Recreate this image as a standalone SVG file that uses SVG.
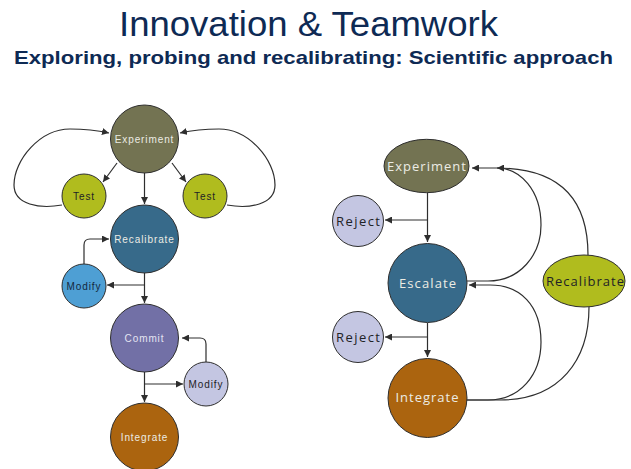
<svg xmlns="http://www.w3.org/2000/svg" width="631" height="469" viewBox="0 0 631 469">
  <style>
    .node { stroke: #2e2e2e; stroke-width: 1; }
    .edge { fill: none; stroke: #2e2e2e; stroke-width: 1.2; }
    .lbl { font-family: "Liberation Sans", Arial, sans-serif; font-size: 10px; letter-spacing: 0.9px; text-anchor: middle; }
    .lbl2 { font-family: "Open Sans", "DejaVu Sans", sans-serif; font-size: 13px; text-anchor: middle; }
    .light { fill: #ecece4; }
    .dark { fill: #1f2326; }
  </style>
  <defs>
    <marker id="arr" viewBox="0 0 10 10" refX="10" refY="5" markerWidth="7" markerHeight="7" markerUnits="userSpaceOnUse" orient="auto">
      <path d="M0,0 L10,5 L0,10 z" fill="#2e2e2e"/>
    </marker>
  </defs>

  <rect width="631" height="469" fill="#ffffff"/>

  <!-- headings -->
  <text x="119" y="36" font-family="'Liberation Sans', Arial, sans-serif" font-size="35" fill="#0e2a54" textLength="379" lengthAdjust="spacingAndGlyphs">Innovation &amp; Teamwork</text>
  <text x="14" y="64" font-family="'Liberation Sans', Arial, sans-serif" font-size="19" font-weight="bold" fill="#0e2a54" textLength="599" lengthAdjust="spacingAndGlyphs">Exploring, probing and recalibrating: Scientific approach</text>

  <!-- connectors -->
  <g id="connectors">
    <!-- left cycle -->
    <path class="edge" d="M62,205 C40,209 14,205 14,185 C14,160 40,129 70,129 C88,129 100,131 109,133" marker-end="url(#arr)"/>
    <path class="edge" d="M227,205 C249,209 275,205 275,185 C275,160 249,129 219,129 C201,129 189,131 180,133" marker-end="url(#arr)"/>
    <path class="edge" d="M117,163 L103,182" marker-end="url(#arr)"/>
    <path class="edge" d="M172,163 L186,182" marker-end="url(#arr)"/>
    <path class="edge" d="M144.5,173 L144.5,204" marker-end="url(#arr)"/>
    <path class="edge" d="M144.5,273 L144.5,303" marker-end="url(#arr)"/>
    <path class="edge" d="M144.5,285 L107,285" marker-end="url(#arr)"/>
    <path class="edge" d="M84,264 L84,245 Q84,239 90,239 L109,239" marker-end="url(#arr)"/>
    <path class="edge" d="M144.5,372 L144.5,402" marker-end="url(#arr)"/>
    <path class="edge" d="M144.5,384 L183,384" marker-end="url(#arr)"/>
    <path class="edge" d="M206,362 L206,344 Q206,338 200,338 L182,338" marker-end="url(#arr)"/>

    <!-- right flow -->
    <path class="edge" d="M427.5,193 L427.5,242" marker-end="url(#arr)"/>
    <path class="edge" d="M427.5,220 L385,220" marker-end="url(#arr)"/>
    <path class="edge" d="M427.5,323 L427.5,357" marker-end="url(#arr)"/>
    <path class="edge" d="M427.5,337 L385,337" marker-end="url(#arr)"/>
    <path class="edge" d="M466,281 L488,281 C520,281 541,255 541,225 C541,190 520,168 497,168 L472,168" marker-end="url(#arr)"/>
    <path class="edge" d="M588,255 C588,205 565,168 497,168" marker-end="url(#arr)"/>
    <path class="edge" d="M466,400 L488,400 C520,400 541,375 541,342 C541,305 520,285 490,285 L469,285" marker-end="url(#arr)"/>
    <path class="edge" d="M589,307 C589,360 560,400 500,400 L466,400"/>
  </g>

  <!-- left diagram nodes -->
  <g id="experiment-l">
    <circle class="node" cx="144.5" cy="139" r="34" fill="#737352"/>
    <text class="lbl light" x="144.5" y="143">Experiment</text>
  </g>
  <g id="test-l">
    <circle class="node" cx="84" cy="196" r="22" fill="#b0bc1e"/>
    <text class="lbl dark" x="84" y="200">Test</text>
  </g>
  <g id="test-r">
    <circle class="node" cx="205" cy="196" r="22" fill="#b0bc1e"/>
    <text class="lbl dark" x="205" y="200">Test</text>
  </g>
  <g id="recalibrate-l">
    <circle class="node" cx="144.5" cy="239" r="34" fill="#376a8a"/>
    <text class="lbl light" x="144.5" y="243">Recalibrate</text>
  </g>
  <g id="modify-1">
    <circle class="node" cx="84" cy="286" r="22" fill="#4e9fd4"/>
    <text class="lbl" x="84" y="290" fill="#14283c">Modify</text>
  </g>
  <g id="commit">
    <circle class="node" cx="144.5" cy="338" r="34" fill="#7270a6"/>
    <text class="lbl" x="144.5" y="342" fill="#e4e4f2">Commit</text>
  </g>
  <g id="modify-2">
    <circle class="node" cx="206" cy="384" r="22" fill="#c4c6e2"/>
    <text class="lbl dark" x="206" y="388">Modify</text>
  </g>
  <g id="integrate-l">
    <circle class="node" cx="144.5" cy="437" r="34" fill="#ab640f"/>
    <text class="lbl light" x="144.5" y="441">Integrate</text>
  </g>

  <!-- right diagram nodes -->
  <g id="experiment-r">
    <ellipse class="node" cx="426.5" cy="166" rx="42.5" ry="26.7" fill="#737352"/>
    <text class="lbl2 light" x="426.5" y="170.5" textLength="79" lengthAdjust="spacing">Experiment</text>
  </g>
  <g id="reject-1">
    <circle class="node" cx="358" cy="221" r="25.5" fill="#c4c6e2"/>
    <text class="lbl2 dark" x="358" y="225.5" textLength="44" lengthAdjust="spacing">Reject</text>
  </g>
  <g id="escalate">
    <circle class="node" cx="427.5" cy="283" r="39.5" fill="#376a8a"/>
    <text class="lbl2 light" x="427.5" y="287.5" textLength="57" lengthAdjust="spacing">Escalate</text>
  </g>
  <g id="recalibrate-r">
    <ellipse class="node" cx="584" cy="281" rx="41" ry="26" fill="#b0bc1e"/>
    <text class="lbl2 dark" x="585" y="285.5" textLength="78" lengthAdjust="spacing">Recalibrate</text>
  </g>
  <g id="reject-2">
    <circle class="node" cx="358" cy="337" r="25.5" fill="#c4c6e2"/>
    <text class="lbl2 dark" x="358" y="341.5" textLength="44" lengthAdjust="spacing">Reject</text>
  </g>
  <g id="integrate-r">
    <circle class="node" cx="427.5" cy="398" r="39.5" fill="#ab640f"/>
    <text class="lbl2 light" x="427" y="402" textLength="63" lengthAdjust="spacing">Integrate</text>
  </g>
</svg>
